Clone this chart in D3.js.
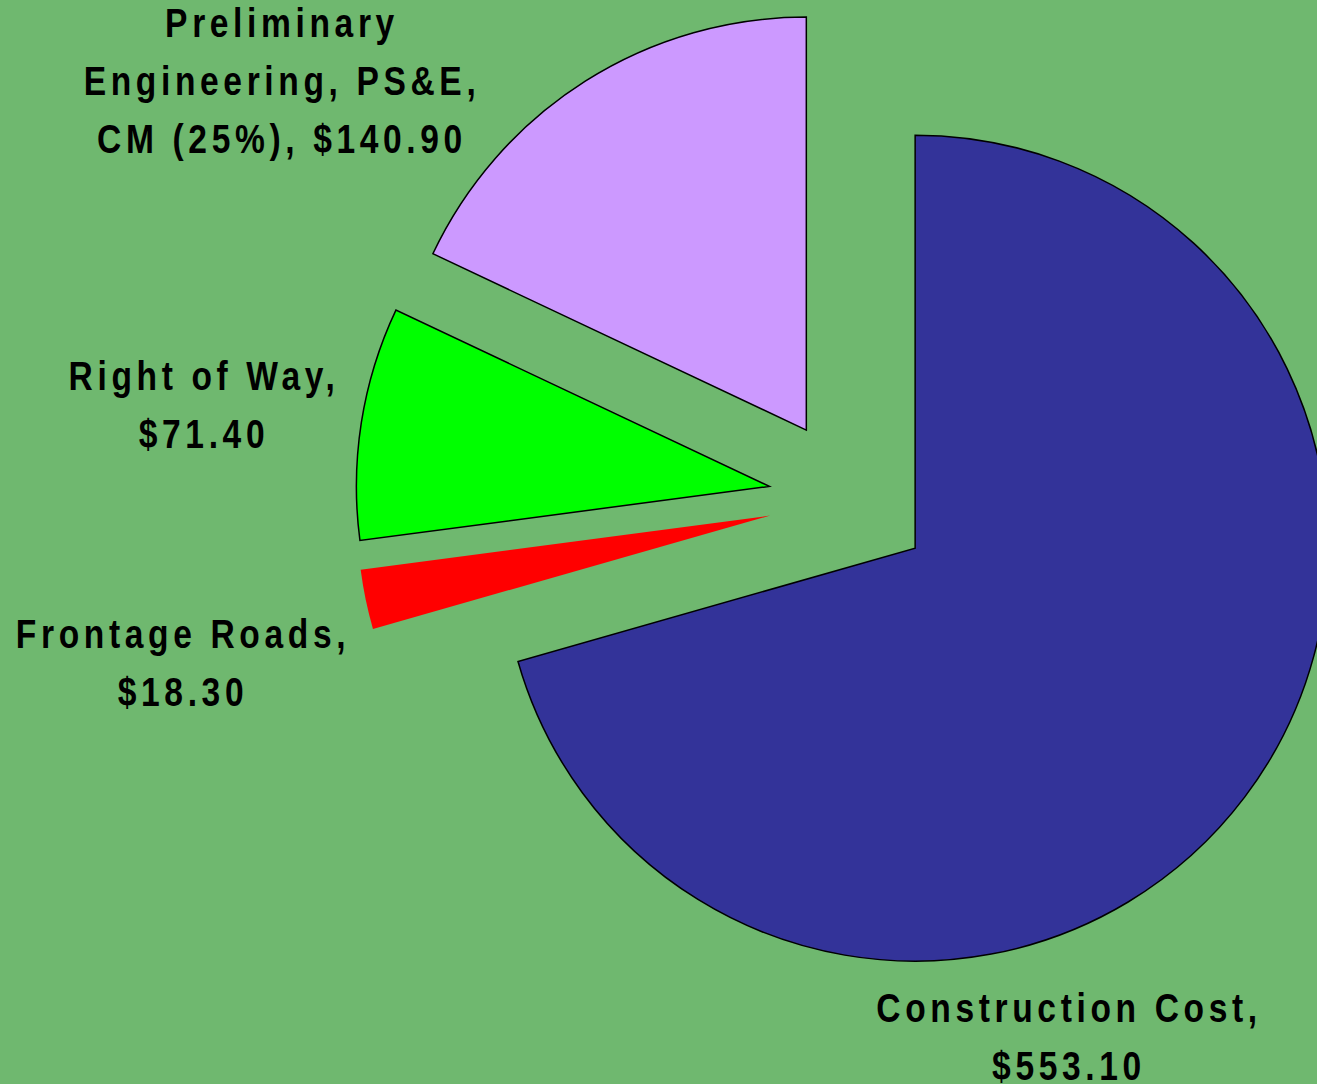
<!DOCTYPE html>
<html>
<head>
<meta charset="utf-8">
<script src="https://cdn.jsdelivr.net/npm/d3@7"></script>
<style>
html,body{margin:0;padding:0;background:#6fb86f;}
svg{display:block;}
text{font-family:"Liberation Sans Narrow","Liberation Sans",Arial,sans-serif;font-weight:bold;fill:#000;}
</style>
</head>
<body>
<svg id="chart" width="1317" height="1084"></svg>
<script>
const categories = ["Construction Cost", "Frontage Roads", "Right of Way", "Preliminary Engineering, PS&E, CM (25%)"];
const values = [553.10, 18.30, 71.40, 140.90];
const labelLines = [
  ["Construction Cost,", "$553.10"],
  ["Frontage Roads,", "$18.30"],
  ["Right of Way,", "$71.40"],
  ["Preliminary", "Engineering, PS&E,", "CM (25%), $140.90"]
];
const colors = ["#333399", "#ff0000", "#00ff00", "#cc99ff"];
const strokes = ["#000", "none", "#000", "#000"];

const W = 1317, H = 1084;
const cx = 850, cy = 499, R = 413, explode = 81.6;
const labelPos = [[1069, 1022], [183, 648], [204, 390], [282, 37]];
const lineH = 58;
const sx = 0.84;

const svg = d3.select("#chart");
svg.append("rect").attr("width", W).attr("height", H).attr("fill", "#6fb86f");

const pie = d3.pie().sort(null).value(d => d).startAngle(0).endAngle(2 * Math.PI);
const arcs = pie(values);
const arc = d3.arc().innerRadius(0).outerRadius(R);

const g = svg.append("g").attr("transform", `translate(${cx},${cy})`);
g.selectAll("path").data(arcs).join("path")
  .attr("d", arc)
  .attr("fill", (d, i) => colors[i])
  .attr("stroke", (d, i) => strokes[i])
  .attr("stroke-width", 1.5)
  .attr("transform", d => {
    const a = (d.startAngle + d.endAngle) / 2;
    return `translate(${explode * Math.sin(a)},${-explode * Math.cos(a)})`;
  });

const labels = svg.append("g");
labelLines.forEach((lines, i) => {
  lines.forEach((ln, j) => {
    labels.append("text")
      .attr("text-anchor", "middle")
      .attr("font-size", 40)
      .attr("letter-spacing", 5.5)
      .attr("transform", `translate(${labelPos[i][0]},${labelPos[i][1] + j * lineH}) scale(${sx},1)`)
      .text(ln);
  });
});
</script>
</body>
</html>
